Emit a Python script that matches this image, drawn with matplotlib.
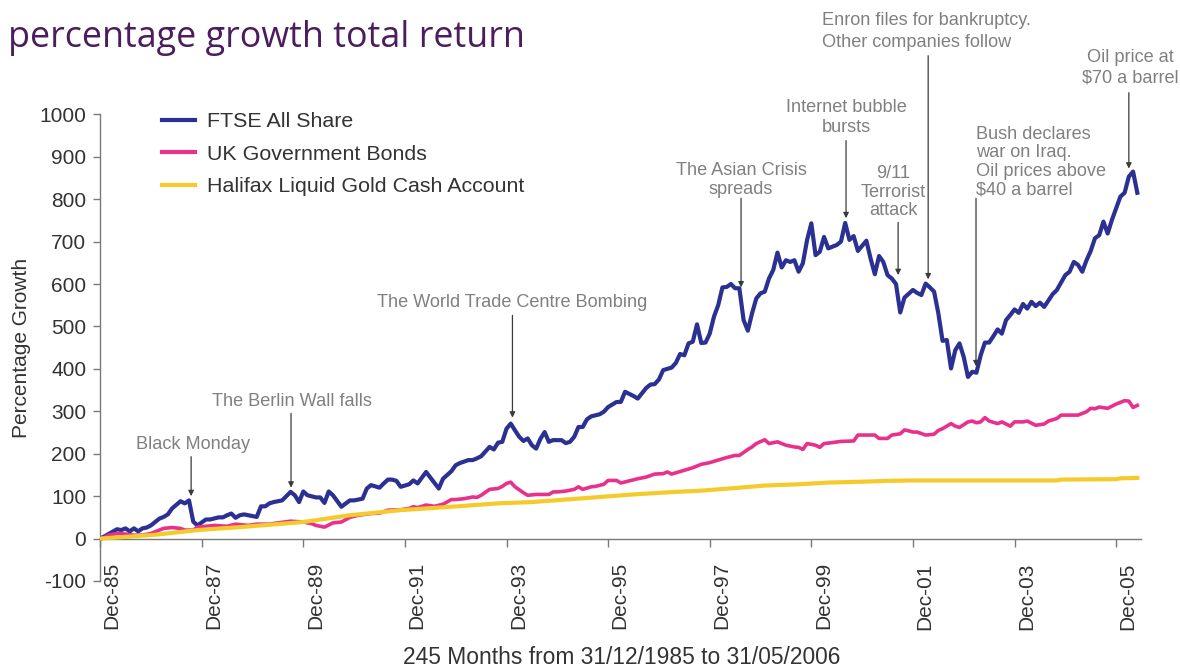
import matplotlib
matplotlib.use("Agg")
import matplotlib.pyplot as plt
import matplotlib.transforms as mtransforms

# ---------------- data (month index from 31/12/1985, % growth) ----------------
ftse_months = [0, 1, 4, 5, 6, 7, 8, 9, 10, 11, 12, 14, 15, 16, 17, 19, 20, 21, 22, 23,
               25, 26, 28, 29, 30, 31, 32, 33, 34, 35, 37, 38, 39, 40, 41, 43, 45, 46, 47, 48,
               49, 51, 52, 53, 54, 55, 57, 59, 60, 62, 63, 64, 66, 67, 68, 69, 70, 71, 73, 74,
               75, 77, 78, 80, 81, 83, 84, 85, 87, 88, 89, 90, 91, 92, 93, 94, 95, 96, 97, 98,
               99, 100, 101, 102, 103, 104, 105, 106, 107, 109, 110, 111, 112, 113, 114, 115, 116, 118, 119, 120,
               122, 123, 124, 126, 127, 129, 130, 131, 132, 133, 135, 136, 137, 138, 139, 140, 141, 142, 143, 144,
               145, 146, 147, 148, 149, 150, 151, 152, 153, 154, 155, 156, 157, 158, 159, 160, 161, 162, 163, 164,
               165, 166, 167, 168, 169, 170, 171, 172, 174, 175, 176, 177, 178, 179, 181, 182, 183, 184, 185, 186,
               187, 188, 189, 190, 192, 193, 194, 195, 196, 197, 198, 199, 200, 201, 202, 203, 204, 205, 206, 207,
               208, 209, 210, 211, 212, 213, 214, 215, 216, 217, 218, 219, 220, 221, 222, 223, 225, 226, 228, 229,
               230, 231, 232, 233, 234, 235, 236, 237, 238, 239, 241, 242, 243, 244, 245]
ftse_values = [0, 5, 22, 20, 24, 17, 24, 17, 24, 26, 31, 47, 51, 57, 71, 88, 83, 90, 40, 31,
               45, 45, 50, 50, 55, 59, 49, 55, 57, 55, 51, 76, 76, 83, 86, 90, 110, 102, 86, 111,
               102, 97, 97, 84, 111, 102, 75, 90, 90, 94, 118, 126, 120, 130, 139, 139, 136, 122, 128, 137,
               130, 157, 144, 118, 141, 159, 173, 178, 185, 185, 189, 194, 205, 216, 210, 226, 228, 259, 271, 255,
               240, 230, 236, 220, 212, 235, 251, 228, 232, 232, 225, 228, 240, 263, 263, 281, 288, 293, 299, 310,
               322, 322, 346, 336, 330, 355, 363, 364, 375, 397, 403, 414, 435, 432, 460, 464, 505, 461, 462, 483,
               523, 550, 592, 593, 600, 590, 590, 515, 490, 531, 566, 578, 582, 613, 633, 674, 639, 656, 652, 656,
               629, 649, 704, 743, 668, 676, 711, 684, 692, 700, 744, 704, 713, 678, 702, 660, 623, 666, 652, 621,
               613, 600, 533, 568, 586, 579, 574, 601, 592, 582, 531, 466, 468, 401, 444, 460, 428, 381, 393, 391,
               432, 462, 462, 477, 493, 483, 515, 527, 540, 532, 553, 542, 558, 548, 556, 546, 576, 586, 621, 629,
               652, 645, 629, 656, 678, 708, 715, 747, 719, 751, 806, 815, 853, 865, 815]

bond_months = [0, 2, 4, 5, 8, 10, 12, 15, 17, 19, 20, 22, 23, 25, 27, 30, 32, 35, 37, 40,
               42, 45, 48, 50, 51, 53, 55, 57, 59, 61, 64, 66, 68, 71, 73, 74, 75, 77, 79, 81,
               83, 84, 86, 88, 89, 90, 92, 94, 95, 96, 97, 98, 100, 101, 103, 106, 107, 108, 110, 112,
               113, 114, 116, 117, 119, 120, 122, 123, 125, 127, 129, 131, 133, 134, 135, 138, 140, 142, 144, 146,
               148, 150, 151, 153, 154, 155, 157, 158, 160, 162, 164, 165, 166, 167, 169, 170, 171, 172, 175, 178,
               179, 183, 184, 186, 187, 189, 190, 191, 192, 193, 195, 197, 198, 199, 201, 202, 203, 205, 206, 207,
               208, 209, 210, 212, 213, 215, 216, 218, 219, 221, 223, 224, 226, 227, 231, 233, 234, 235, 236, 238,
               240, 242, 243, 244, 245]
bond_values = [-2, 8, 12, 12, 8, 8, 12, 24, 26, 24, 20, 20, 27, 29, 31, 29, 34, 31, 34, 34,
               37, 41, 39, 35, 31, 27, 37, 39, 50, 55, 59, 60, 67, 68, 71, 75, 73, 79, 76, 81,
               92, 92, 94, 98, 97, 102, 116, 118, 123, 130, 133, 122, 108, 102, 104, 104, 110, 110, 112, 116,
               122, 116, 122, 123, 128, 137, 137, 131, 136, 141, 145, 152, 153, 157, 152, 161, 167, 175, 179, 185,
               191, 196, 196, 210, 216, 224, 233, 224, 228, 220, 216, 215, 210, 224, 220, 215, 224, 225, 229, 230,
               244, 244, 236, 236, 244, 247, 256, 254, 251, 251, 244, 246, 255, 259, 271, 265, 262, 275, 277, 273,
               275, 285, 277, 271, 275, 265, 275, 275, 277, 267, 270, 277, 283, 291, 291, 299, 307, 306, 310, 307,
               317, 325, 324, 309, 314]

cash_months = [0, 6, 13, 23, 33, 48, 59, 71, 83, 94, 102, 110, 118, 126, 134, 142, 150, 157, 165, 172,
               180, 186, 192, 226, 227, 240, 241, 245]
cash_values = [0, 4, 9, 20, 27, 39, 55, 67, 75, 83, 86, 92, 98, 104, 109, 113, 119, 125, 128, 132,
               134, 136, 137, 137, 139, 140, 142, 143]

series_labels = ["FTSE All Share", "UK Government Bonds", "Halifax Liquid Gold Cash Account"]
tick_months = [0, 24, 48, 72, 96, 120, 144, 168, 192, 216, 240]
tick_labels = ["Dec-85", "Dec-87", "Dec-89", "Dec-91", "Dec-93", "Dec-95",
               "Dec-97", "Dec-99", "Dec-01", "Dec-03", "Dec-05"]
y_ticks = [-100, 0, 100, 200, 300, 400, 500, 600, 700, 800, 900, 1000]

# events: (text, text month, text value, arrow month, arrow tail value, arrow tip value, ha)
events = [
    ("Black Monday", 21.9, 222, 21.5, 193, 100, "center"),
    ("The Berlin Wall falls", 45.3, 322, 45.1, 295, 120, "center"),
    ("The World Trade Centre Bombing", 97.3, 557, 97.4, 526, 285, "center"),
    ("The Asian Crisis\nspreads", 151.4, 845, 151.4, 802, 592, "center"),
    ("Internet bubble\nbursts", 176.2, 992, 176.2, 938, 755, "center"),
    ("9/11\nTerrorist\nattack", 187.3, 816, 188.5, 745, 621, "center"),
    ("Enron files for bankruptcy.\nOther companies follow", 170.5, 1196, 195.6, 1138, 611, "left"),
    ("Bush declares\nwar on Iraq.\nOil prices above\n$40 a barrel", 206.9, 887, 206.9, 802, 406, "left"),
    ("Oil price at\n$70 a barrel", 243.3, 1109, 243.0, 1051, 872, "center"),
]
event_linespacing = [1.0, 1.0, 1.0, 1.15, 1.21, 1.12, 1.39, 1.13, 1.27]

# ---------------- figure ----------------
plt.rcParams['font.family'] = ['Liberation Sans', 'DejaVu Sans']
fig = plt.figure(figsize=(11.8, 6.68), dpi=100)
ax = fig.add_axes([0.08483, 0.13024, 0.88186, 0.69865])

navy = "#2B3192"
pink = "#E8308C"
yellow = "#F5CB2C"

ax.plot(ftse_months, ftse_values, color=navy, lw=3.0, label=series_labels[0], zorder=3)
ax.plot(bond_months, bond_values, color=pink, lw=2.6, label=series_labels[1], zorder=4)
ax.plot(cash_months, cash_values, color=yellow, lw=3.0, label=series_labels[2], zorder=5)

ax.set_xlim(0, 245.8)
ax.set_ylim(-100, 1000)

for s in ["top", "right"]:
    ax.spines[s].set_visible(False)
ax.spines["bottom"].set_position(("data", 0))
for s in ["left", "bottom"]:
    ax.spines[s].set_color("#7a7a7a")
    ax.spines[s].set_linewidth(1.0)

ax.set_yticks(y_ticks)
ax.set_yticklabels([str(v) for v in y_ticks])
ax.tick_params(axis="y", direction="out", length=5, width=1, color="#7a7a7a",
               labelsize=15, labelcolor="#333333", pad=5)
ax.set_xticks(tick_months)
ax.set_xticklabels(tick_labels, rotation=90, va="top", ha="center")
ax.tick_params(axis="x", direction="out", length=6, width=1, color="#7a7a7a",
               labelsize=15, labelcolor="#333333", pad=11)
offset = mtransforms.ScaledTranslation(0.12, 0, fig.dpi_scale_trans)
for lab in ax.get_xticklabels():
    lab.set_transform(lab.get_transform() + offset)

ax.set_ylabel("Percentage Growth", fontsize=15, color="#333333")
ax.yaxis.set_label_coords(-0.066, 0.5)
fig.text(622 / 1180, 1 - 657 / 668, "245 Months from 31/12/1985 to 31/05/2006",
         fontsize=16.4, color="#333333", ha="center", va="center")

# title
fig.text(8 / 1180, 1 - 47 / 668, "percentage growth total return", fontsize=25.8,
         color="#4B1D5F", ha="left", va="baseline", family=["Open Sans", "DejaVu Sans"])

# legend
leg = ax.legend(loc="upper left", bbox_to_anchor=(162 / 1180, 1 - 112 / 668),
                bbox_transform=fig.transFigure, frameon=False, fontsize=15.4,
                handlelength=1.55, handletextpad=0.54, labelspacing=0.64,
                borderpad=0, borderaxespad=0)
for t in leg.get_texts():
    t.set_color("#333333")
for h in leg.get_lines():
    h.set_linewidth(3.0)

# annotations
for (text, tx, ty, ax_m, tail, tip, ha), ls in zip(events, event_linespacing):
    ax.text(tx, ty, text, ha=ha, va="center", fontsize=13.1, color="#808080",
            linespacing=ls, clip_on=False, zorder=6)
    ax.annotate("", xy=(ax_m, tip), xytext=(ax_m, tail), annotation_clip=False,
                arrowprops=dict(arrowstyle="-|>", color="#3a3a3a", lw=0.9,
                                mutation_scale=8, shrinkA=0, shrinkB=0), zorder=6)

fig.savefig("out.png", dpi=100)
